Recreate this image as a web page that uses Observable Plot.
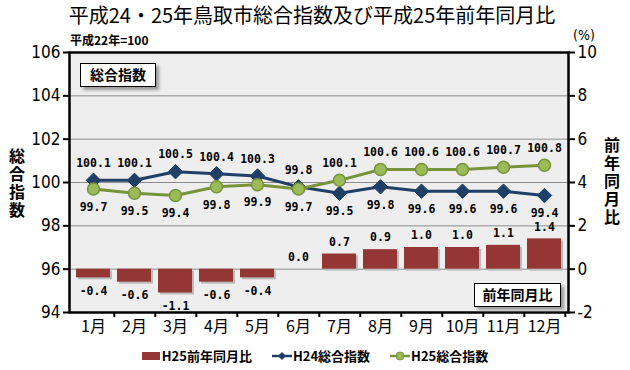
<!DOCTYPE html>
<html><head><meta charset="utf-8">
<script src="https://cdn.jsdelivr.net/npm/d3@7"></script>
<script src="https://cdn.jsdelivr.net/npm/@observablehq/plot@0.6"></script>
<style>
body{margin:0;background:#fff;font-family:"Noto Sans CJK JP",sans-serif;}
#wrap{position:relative;width:630px;height:370px;overflow:hidden;}
.abs{position:absolute;white-space:nowrap;}
#title{left:0;width:624px;top:4px;text-align:center;font-size:20px;line-height:22px;font-family:"Noto Sans CJK JP";color:#000;}
#sub{left:70px;top:33px;font-size:12px;line-height:14px;font-weight:bold;}
#pct{left:573px;top:27px;font-size:14px;font-family:"Liberation Sans Narrow","DejaVu Sans Condensed","Noto Sans CJK JP";}
.vt{writing-mode:vertical-rl;text-orientation:upright;font-size:16px;font-weight:bold;line-height:1;letter-spacing:2px;}
.box{background:#fff;border:1.5px solid #000;box-shadow:3px 3px 3px #999;font-size:14px;font-weight:bold;text-align:center;line-height:21px;}
#legend{left:0;width:630px;top:346px;display:flex;justify-content:center;gap:0;font-size:13px;font-weight:bold;align-items:center;}
.li{display:flex;align-items:center;margin:0 10px;}
svg{overflow:visible;}
</style></head>
<body><div id="wrap">
<div id="title" class="abs">平成24・25年鳥取市総合指数及び平成25年前年同月比</div>
<div id="sub" class="abs">平成22年=100</div>
<div id="pct" class="abs">(%)</div>
<div id="plot" class="abs" style="left:0;top:44px;"></div>
<div class="abs vt" style="left:9px;top:148px;">総合指数</div>
<div class="abs vt" style="left:604px;top:137px;">前年同月比</div>
<div class="abs box" style="left:80px;top:63px;width:74px;height:22px;">総合指数</div>
<div class="abs box" style="left:474px;top:283px;width:85px;height:22px;">前年同月比</div>
<div id="legend" class="abs">
  <div class="li"><svg width="18" height="8"><rect width="18" height="8" fill="#943634"/></svg><span style="margin-left:2px">H25前年同月比</span></div>
  <div class="li"><svg width="20" height="10"><line x1="0" y1="5" x2="20" y2="5" stroke="#1F3F66" stroke-width="2.5"/><path d="M10 1 L14 5 L10 9 L6 5Z" fill="#1F3F66"/></svg><span style="margin-left:1px">H24総合指数</span></div>
  <div class="li"><svg width="20" height="10"><line x1="0" y1="5" x2="20" y2="5" stroke="#77933C" stroke-width="2.5"/><circle cx="10" cy="5" r="4" fill="#9BBB59" stroke="#77933C" stroke-width="1"/></svg><span style="margin-left:1px">H25総合指数</span></div>
</div>
</div>
<script>
const months = ["1月","2月","3月","4月","5月","6月","7月","8月","9月","10月","11月","12月"];
const h24 = [100.1,100.1,100.5,100.4,100.3,99.8,99.5,99.8,99.6,99.6,99.6,99.4];
const h25 = [99.7,99.5,99.4,99.8,99.9,99.7,100.1,100.6,100.6,100.6,100.7,100.8];
const yoy = [-0.4,-0.6,-1.1,-0.6,-0.4,0.0,0.7,0.9,1.0,1.0,1.1,1.4];
const leftTicks = [94,96,98,100,102,104,106];
const gridTicks = [96,98,100,102,104];
const BASE = 96; // right axis 0 aligns with left axis 96

const rows = months.map((m,i)=>({m, h24:h24[i], h25:h25[i], yoy:yoy[i]}));
const numFont = "'Liberation Sans Narrow','DejaVu Sans Condensed','Noto Sans CJK JP'";
const lblFont = "'DejaVu Sans Mono','Noto Sans CJK JP'";
const fmt = d => d.toFixed(1);
const W = 630, ML = 69, MR = 62;
const halfStep = (W - ML - MR) / months.length / 2;

const chart = Plot.plot({
  width: W, height: 298,
  marginLeft: ML, marginRight: MR, marginTop: 8, marginBottom: 30,
  style: {fontFamily: numFont, fontSize: "16px", background: "transparent", overflow: "visible"},
  x: {type: "band", domain: months, paddingInner: 0.18, paddingOuter: 0.09},
  y: {domain: [94,106]},
  marks: [
    Plot.frame({fill: "#eeeeee", stroke: null}),
    Plot.gridY(gridTicks, {stroke: "#8c8c8c", strokeOpacity: 1, strokeWidth: 1}),
    Plot.barY(rows, {x: "m", y1: BASE, y2: d => BASE + d.yoy, fill: "#bbbbbb", dx: 2, dy: 2}),
    Plot.barY(rows, {x: "m", y1: BASE, y2: d => BASE + d.yoy, fill: "#943634"}),
    Plot.text(rows, {x: "m", y: d => BASE + d.yoy, text: d => fmt(d.yoy), fontFamily: lblFont, fontWeight: "bold", fontSize: 11.5, filter: d => d.yoy >= 0, dy: -12}),
    Plot.text(rows, {x: "m", y: d => BASE + d.yoy, text: d => fmt(d.yoy), fontFamily: lblFont, fontWeight: "bold", fontSize: 11.5, filter: d => d.yoy < 0, dy: 13}),
    Plot.lineY(rows, {x: "m", y: "h24", stroke: "#1F3F66", strokeWidth: 3}),
    Plot.dot(rows, {x: "m", y: "h24", symbol: "diamond2", r: 6.5, fill: "#1F3F66", stroke: "#1F3F66", strokeWidth: 1}),
    Plot.lineY(rows, {x: "m", y: "h25", stroke: "#77933C", strokeWidth: 3}),
    Plot.dot(rows, {x: "m", y: "h25", r: 6, fill: "#9BBB59", stroke: "#77933C", strokeWidth: 1.5}),
    Plot.text(rows, {x: "m", y: "h24", text: d => fmt(d.h24), filter: d => d.h24 >= d.h25, dy: -17, fontFamily: lblFont, fontWeight: "bold", fontSize: 11.5}),
    Plot.text(rows, {x: "m", y: "h24", text: d => fmt(d.h24), filter: d => d.h24 < d.h25, dy: 18, fontFamily: lblFont, fontWeight: "bold", fontSize: 11.5}),
    Plot.text(rows, {x: "m", y: "h25", text: d => fmt(d.h25), filter: d => d.h25 > d.h24, dy: -17, fontFamily: lblFont, fontWeight: "bold", fontSize: 11.5}),
    Plot.text(rows, {x: "m", y: "h25", text: d => fmt(d.h25), filter: d => d.h25 <= d.h24, dy: 18, fontFamily: lblFont, fontWeight: "bold", fontSize: 11.5}),
    Plot.axisY(leftTicks, {anchor: "left", tickSize: 6, tickPadding: 3, stroke: "#000", strokeWidth: 2, fontSize: 17, label: null}),
    Plot.axisY(leftTicks, {anchor: "right", tickSize: 6, tickPadding: 3, stroke: "#000", strokeWidth: 2, fontSize: 17, label: null, tickFormat: d => String(d - BASE)}),
    Plot.axisX({anchor: "bottom", tickSize: 0, tickPadding: 8, fontSize: 16, label: null, fontFamily: "'Liberation Sans Narrow','Noto Sans CJK JP'"}),
    Plot.axisX({anchor: "bottom", tickSize: 5, text: null, dx: halfStep, stroke: "#000", strokeWidth: 2, label: null}),
    Plot.frame({stroke: "#000", strokeWidth: 2.5})
  ]
});
document.getElementById("plot").appendChild(chart);
</script>
</body></html>
